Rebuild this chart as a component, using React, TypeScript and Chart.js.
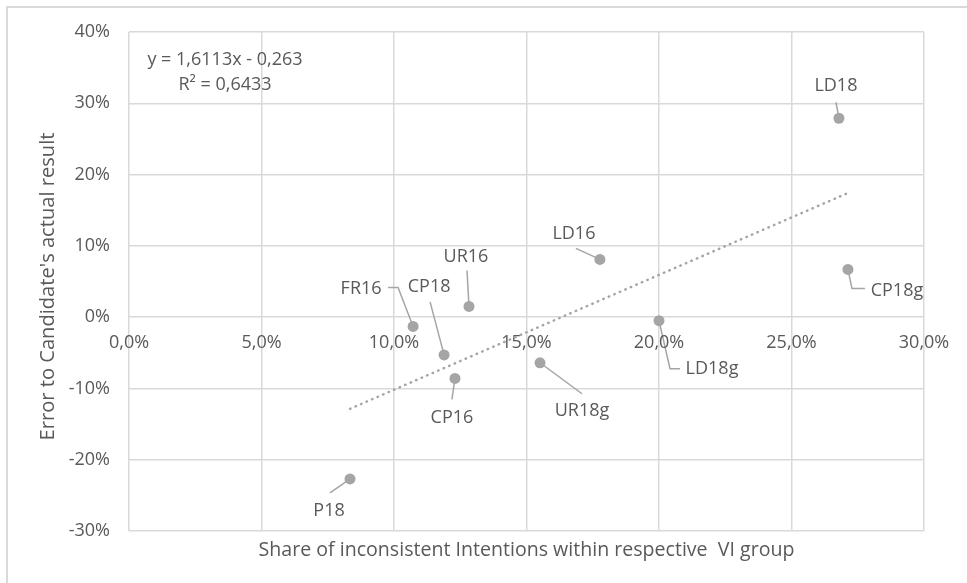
import React, { useEffect, useRef } from "react";
import { Chart, registerables } from "chart.js";

Chart.register(...registerables);

// ---- Data ----
const POINT_NAMES = ["P18", "FR16", "CP18", "CP16", "UR16", "UR18g", "LD16", "LD18g", "LD18", "CP18g"];
// share of inconsistent intentions (%)
const SHARE_INCONSISTENT = [8.34, 10.72, 11.89, 12.3, 12.83, 15.51, 17.77, 20.0, 26.79, 27.13];
// error to candidate's actual result (%)
const ERROR_TO_RESULT = [-22.7, -1.3, -5.3, -8.6, 1.5, -6.4, 8.1, -0.5, 27.9, 6.7];
const TREND_SLOPE = 1.6113;
const TREND_INTERCEPT = -0.263;
const TREND_LABEL = "y = 1,6113x - 0,263";
const R2_LABEL = "R² = 0,6433";
const X_TICK_LABELS = ["0,0%", "5,0%", "10,0%", "15,0%", "20,0%", "25,0%", "30,0%"];
const Y_TICK_LABELS = ["-30%", "-20%", "-10%", "0%", "10%", "20%", "30%", "40%"];
const X_TITLE = "Share of inconsistent Intentions within respective  VI group";
const Y_TITLE = "Error to Candidate's actual result";

// ---- Label placement (style, offsets relative to point in px) ----
const LABEL_LAYOUT: Record<string, { dx: number; dy: number; leader: [number, number][] }> = {
  P18: { dx: -21, dy: 32, leader: [[-20, 14], [0, 0]] },
  FR16: { dx: -52, dy: -38, leader: [[-25, -39], [-15, -39], [0, 0]] },
  CP18: { dx: -15, dy: -68, leader: [[-14, -53], [0, 0]] },
  CP16: { dx: -3, dy: 39, leader: [[-3, 21], [0, 0]] },
  UR16: { dx: -3, dy: -50, leader: [[-2, -36], [0, 0]] },
  UR18g: { dx: 42, dy: 48, leader: [[42, 31], [0, 0]] },
  LD16: { dx: -26, dy: -26, leader: [[-24, -11], [0, 0]] },
  LD18g: { dx: 53, dy: 48, leader: [[0, 0], [11, 48], [21, 48]] },
  LD18: { dx: -3, dy: -32, leader: [[-3, -16], [0, 0]] },
  CP18g: { dx: 49, dy: 21, leader: [[0, 0], [4, 19], [17, 19]] },
};

const FONT = "'Open Sans', sans-serif";
const FONT_SIZE = 18;
const TEXT_COLOR = "#595959";
const GRID_COLOR = "#d9d9d9";
const MARK_COLOR = "#a5a5a5";

function fittedFont(ctx: CanvasRenderingContext2D, text: string, target: number) {
  ctx.font = `${FONT_SIZE}px ${FONT}`;
  const w = ctx.measureText(text).width || 1;
  const size = Math.min(FONT_SIZE * 1.2, FONT_SIZE * (target / w));
  return `${size}px ${FONT}`;
}

const decorPlugin = {
  id: "decor",
  beforeDraw(chart: any) {
    const ctx = chart.ctx;
    ctx.save();
    ctx.fillStyle = "#ffffff";
    ctx.fillRect(0, 0, chart.width, chart.height);
    ctx.strokeStyle = GRID_COLOR;
    ctx.lineWidth = 2;
    ctx.beginPath();
    ctx.moveTo(7, chart.height);
    ctx.lineTo(7, 7);
    ctx.lineTo(chart.width, 7);
    ctx.stroke();
    ctx.restore();
  },
  beforeDatasetsDraw(chart: any) {
    const ctx = chart.ctx;
    const xs = chart.scales.x;
    const ys = chart.scales.y;
    const meta = chart.getDatasetMeta(0);
    ctx.save();
    ctx.strokeStyle = MARK_COLOR;
    ctx.lineWidth = 1.5;
    meta.data.forEach((el: any, i: number) => {
      const lay = LABEL_LAYOUT[POINT_NAMES[i]];
      if (!lay) return;
      ctx.beginPath();
      lay.leader.forEach(([ox, oy], j) => {
        if (j === 0) ctx.moveTo(el.x + ox, el.y + oy);
        else ctx.lineTo(el.x + ox, el.y + oy);
      });
      ctx.stroke();
    });
    // x tick labels along the zero line
    ctx.fillStyle = TEXT_COLOR;
    ctx.font = `${FONT_SIZE}px ${FONT}`;
    ctx.textAlign = "center";
    ctx.textBaseline = "middle";
    const y0 = ys.getPixelForValue(0);
    X_TICK_LABELS.forEach((lab, i) => {
      ctx.fillText(lab, xs.getPixelForValue(i * 5), y0 + 26);
    });
    ctx.restore();
  },
  afterDraw(chart: any) {
    const ctx = chart.ctx;
    const area = chart.chartArea;
    const meta = chart.getDatasetMeta(0);
    ctx.save();
    ctx.fillStyle = TEXT_COLOR;
    ctx.textAlign = "center";
    ctx.textBaseline = "middle";
    ctx.font = `${FONT_SIZE}px ${FONT}`;
    meta.data.forEach((el: any, i: number) => {
      const lay = LABEL_LAYOUT[POINT_NAMES[i]];
      if (!lay) return;
      ctx.fillText(POINT_NAMES[i], el.x + lay.dx, el.y + lay.dy);
    });
    // equation
    ctx.fillText(TREND_LABEL, area.left + 96, area.top + 28);
    ctx.fillText(R2_LABEL, area.left + 96, area.top + 53);
    // axis titles
    ctx.font = fittedFont(ctx, X_TITLE, 536);
    ctx.fillText(X_TITLE, (area.left + area.right) / 2, area.bottom + 19);
    ctx.font = fittedFont(ctx, Y_TITLE, 308);
    ctx.translate(48, (area.top + area.bottom) / 2 + 5);
    ctx.rotate(-Math.PI / 2);
    ctx.fillText(Y_TITLE, 0, 0);
    ctx.restore();
  },
};

export default function App() {
  const ref = useRef<HTMLCanvasElement | null>(null);
  useEffect(() => {
    if (!ref.current) return;
    const xMin = Math.min(...SHARE_INCONSISTENT);
    const xMax = Math.max(...SHARE_INCONSISTENT);
    const trend = [xMin, xMax].map((x) => ({ x, y: TREND_SLOPE * x + TREND_INTERCEPT * 100 }));
    const chart = new Chart(ref.current, {
      type: "scatter",
      data: {
        datasets: [
          {
            label: "Points",
            data: SHARE_INCONSISTENT.map((x, i) => ({ x, y: ERROR_TO_RESULT[i] })),
            backgroundColor: MARK_COLOR,
            borderColor: MARK_COLOR,
            pointRadius: 5.5,
            pointBorderWidth: 0,
          },
          {
            label: "Trend",
            data: trend,
            showLine: true,
            borderColor: MARK_COLOR,
            borderWidth: 2.5,
            borderDash: [0.5, 5.5],
            borderCapStyle: "round",
            pointRadius: 0,
            fill: false,
          } as any,
        ],
      },
      options: {
        responsive: false,
        animation: false,
        layout: { padding: { left: 0, top: 32, right: 43, bottom: 52 } },
        plugins: { legend: { display: false }, tooltip: { enabled: false } },
        scales: {
          x: {
            type: "linear",
            min: 0,
            max: 30,
            ticks: { stepSize: 5, display: false },
            grid: { color: GRID_COLOR, lineWidth: 1.5, drawTicks: false },
            border: { display: false },
            afterFit: (s: any) => {
              s.height = 0;
            },
          },
          y: {
            type: "linear",
            min: -30,
            max: 40,
            ticks: {
              stepSize: 10,
              padding: 19,
              color: TEXT_COLOR,
              font: { family: FONT, size: FONT_SIZE },
              callback: (_v: any, i: number) => Y_TICK_LABELS[i],
            },
            grid: { color: GRID_COLOR, lineWidth: 1.5, drawTicks: false },
            border: { display: false },
            afterFit: (s: any) => {
              s.width = 129;
            },
          },
        },
      },
      plugins: [decorPlugin],
    } as any);
    return () => chart.destroy();
  }, []);
  return (
    <div style={{ position: "fixed", left: 0, top: 0, width: 967, height: 583 }}>
      <canvas ref={ref} width={967} height={583} />
    </div>
  );
}
